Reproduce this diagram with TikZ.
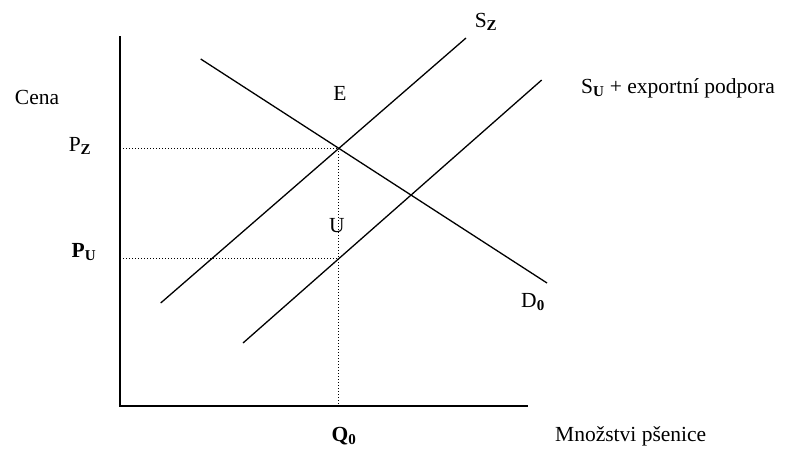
\documentclass[tikz,border=0pt]{standalone}
\usepackage{fontspec}
\setmainfont{Liberation Serif}
\newcommand\lsub[1]{\textsubscript{\textbf{#1}}}
\begin{document}
\begin{tikzpicture}[x=1pt,y=-1pt,
  axisline/.style={line width=1.5pt},
  curveline/.style={line width=1.3pt},
  guide/.style={line width=1.1pt, dash pattern=on 1.1pt off 1.9pt},
  lbl/.style={font=\fontsize{21.5}{24}\selectfont, inner sep=0pt}]
\useasboundingbox (0,0) rectangle (806,448);
% axes
\coordinate (O) at (120,406);
\coordinate (Ytop) at (120,36);
\coordinate (Xend) at (528,406);
\draw[axisline] (Ytop) -- (O) -- (Xend);
% curves
\coordinate (sz1) at (160.7,303); \coordinate (sz2) at (466,38);
\coordinate (su1) at (243,343);   \coordinate (su2) at (541.7,80);
\coordinate (d1) at (200.7,59);   \coordinate (d2) at (547,283);
\draw[curveline] (sz1) -- (sz2);
\draw[curveline] (su1) -- (su2);
\draw[curveline] (d1) -- (d2);
% guides
\coordinate (E) at (intersection of sz1--sz2 and d1--d2);
\coordinate (Eaxis) at (E |- O);
\coordinate (Uq) at (intersection of E--Eaxis and su1--su2);
\draw[guide] (E -| O) -- (E);
\draw[guide] (E) -- (Eaxis);
\draw[guide] (Uq -| O) -- (Uq);
% labels
\node[lbl] (cena) at (37,97) {Cena};
\node[lbl] (lE) at (340,93) {E};
\node[lbl] (lU) at (337,226) {U};
\node[lbl] (pz) at (80,146) {P\lsub{Z}};
\node[lbl] (pu) at (84,252) {\textbf{P}\lsub{U}};
\node[lbl] (sz) at (486,22) {S\lsub{Z}};
\node[lbl, anchor=west] (su) at (581,88) {S\lsub{U} + exportní podpora};
\node[lbl] (d0) at (533,302) {D\lsub{0}};
\node[lbl] (q0) at (344,436) {\textbf{Q}\lsub{0}};
\node[lbl, anchor=west] (mn) at (555,436) {Množstvi pšenice};
\end{tikzpicture}
\end{document}
